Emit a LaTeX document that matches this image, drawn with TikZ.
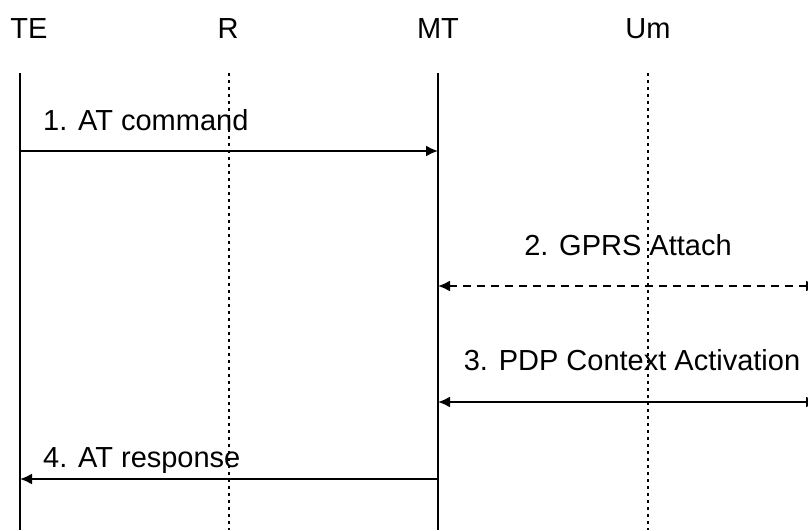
\documentclass[tikz,border=0pt]{standalone}
\usepackage{fontspec}
\setmainfont{Liberation Sans}
\usetikzlibrary{arrows.meta}

\begin{document}
\begin{tikzpicture}[
            x=1pt, y=-1pt,
            every node/.style={inner sep=0pt, anchor=base, font=\fontsize{29}{34}\selectfont},
            life/.style={line width=2.5pt},
            iface/.style={line width=1.6pt, dash pattern=on 3pt off 4pt},
            msg/.style={line width=2pt, -{Latex[length=12pt,width=11pt]}},
            msgboth/.style={line width=2pt, {Latex[length=12pt,width=11pt]}-{Latex[length=12pt,width=11pt]}}
        ]
        \useasboundingbox (0,0) rectangle (808,530);
        \clip (0,0) rectangle (808,530);
        % entities and interfaces
        \node (TE) at (29,38) {TE};
        \node (R) at (228,38) {R};
        \node (MT) at (438,38) {MT};
        \node (Um) at (648,38) {Um};
        % vertical lines
        \foreach \name/\x in {TE/20, MT/438}
            \draw[life] (\x,73) coordinate (\name top) -- (\x,530) coordinate (\name bot);
        \foreach \name/\x in {R/229, Um/648}
            \draw[iface] (\x,73) coordinate (\name top) -- (\x,530) coordinate (\name bot);
        % right edge, the network side
        \coordinate (NW) at (818,0);
        % messages
        \node[anchor=base west] (l1) at (43,130) {1. AT command};
        \draw[msg] (TEtop |- 0,151) -- (MTtop |- 0,151);
        \node (l2) at (628,255) {2. GPRS Attach};
        \draw[msgboth, dash pattern=on 8pt off 6pt] (MTtop |- 0,286) -- (NW |- 0,286);
        \node (l3) at (632,370) {3. PDP Context Activation};
        \draw[msgboth] (MTtop |- 0,402) -- (NW |- 0,402);
        \node[anchor=base west] (l4) at (43,467) {4. AT response};
        \draw[msg] (MTtop |- 0,479) -- (TEtop |- 0,479);
\end{tikzpicture}
\end{document}
